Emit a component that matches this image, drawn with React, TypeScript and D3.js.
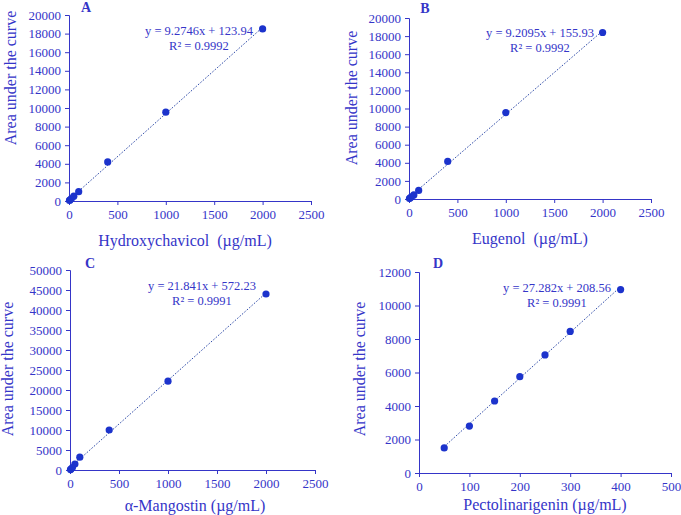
import { useEffect, useRef } from "react";
import * as d3 from "d3";

// panel A - hydroxychavicol
const concA = [5, 10, 25, 50, 100, 400, 1000, 2000];
const aucA = [60, 110, 260, 520, 1000, 4200, 9550, 18500];
// panel B - eugenol
const concB = [5, 10, 25, 50, 100, 400, 1000, 2000];
const aucB = [50, 100, 230, 450, 950, 4150, 9550, 18400];
// panel C - alpha-mangostin
const concC = [5, 10, 25, 50, 100, 400, 1000, 2000];
const aucC = [100, 220, 600, 1500, 3200, 10000, 22200, 44000];
// panel D - pectolinarigenin
const concD = [50, 100, 150, 200, 250, 300, 400];
const aucD = [1500, 2800, 4300, 5750, 7050, 8450, 10950];

const eqA = ["y = 9.2746x + 123.94", "R² = 0.9992"];
const eqB = ["y = 9.2095x + 155.93", "R² = 0.9992"];
const eqC = ["y = 21.841x + 572.23", "R² = 0.9991"];
const eqD = ["y = 27.282x + 208.56", "R² = 0.9991"];
const fitA = [9.2746, 123.94];
const fitB = [9.2095, 155.93];
const fitC = [21.841, 572.23];
const fitD = [27.282, 208.56];

const xTicksA = [0, 500, 1000, 1500, 2000, 2500];
const xTicksD = [0, 100, 200, 300, 400, 500];
const yTicksAB = [0, 2000, 4000, 6000, 8000, 10000, 12000, 14000, 16000, 18000, 20000];
const yTicksC = [0, 5000, 10000, 15000, 20000, 25000, 30000, 35000, 40000, 45000, 50000];
const yTicksD = [0, 2000, 4000, 6000, 8000, 10000, 12000];

const TEXT = "#3535c8";
const DOT = "#1c33cc";
const LINE = "#2e4aa8";
const FONT = "'Liberation Serif', 'Times New Roman', serif";

export default function App() {
    const svgRef = useRef<SVGSVGElement>(null);

    useEffect(() => {
        const svg = d3.select(svgRef.current);
        svg.selectAll("*").remove();

        const panels = [
            {
                letter: "A", x: concA, y: aucA, fit: fitA, eq: eqA, xt: xTicksA, yt: yTicksAB,
                xMax: 2500, yMax: 20000, left: 69, right: 311, top: 15, bottom: 201,
                title: "Hydroxychavicol  (µg/mL)", titleX: 185, titleY: 246,
                yTitleX: 16, yTitleY: 78, letterX: 86, letterY: 12, eqX: 199, eqY: 35,
            },
            {
                letter: "B", x: concB, y: aucB, fit: fitB, eq: eqB, xt: xTicksA, yt: yTicksAB,
                xMax: 2500, yMax: 20000, left: 409, right: 651, top: 18, bottom: 199,
                title: "Eugenol  (µg/mL)", titleX: 530, titleY: 244,
                yTitleX: 357, yTitleY: 98, letterX: 425, letterY: 13, eqX: 540, eqY: 37,
            },
            {
                letter: "C", x: concC, y: aucC, fit: fitC, eq: eqC, xt: xTicksA, yt: yTicksC,
                xMax: 2500, yMax: 50000, left: 70, right: 315, top: 270, bottom: 470,
                title: "α-Mangostin (µg/mL)", titleX: 195, titleY: 511,
                yTitleX: 13, yTitleY: 369, letterX: 90, letterY: 268, eqX: 202, eqY: 290,
            },
            {
                letter: "D", x: concD, y: aucD, fit: fitD, eq: eqD, xt: xTicksD, yt: yTicksD,
                xMax: 500, yMax: 12000, left: 419, right: 671, top: 272, bottom: 473,
                title: "Pectolinarigenin (µg/mL)", titleX: 545, titleY: 510,
                yTitleX: 365, yTitleY: 369, letterX: 438, letterY: 268, eqX: 557, eqY: 292,
            },
        ];

        panels.forEach((p) => {
            const x = d3.scaleLinear().domain([0, p.xMax]).range([p.left, p.right]);
            const y = d3.scaleLinear().domain([0, p.yMax]).range([p.bottom, p.top]);
            const g = svg.append("g").style("font-family", FONT);

            // y axis
            const yAxis = g
                .append("g")
                .attr("transform", `translate(${p.left},0)`)
                .call(d3.axisLeft(y).tickValues(p.yt).tickSize(4).tickPadding(4).tickFormat(d3.format("d")));
            yAxis.select(".domain").attr("stroke", TEXT);
            yAxis.selectAll(".tick line").attr("stroke", TEXT);
            yAxis.selectAll("text").attr("fill", TEXT).style("font-size", "13px").style("font-family", FONT);

            // x axis
            const xAxis = g
                .append("g")
                .attr("transform", `translate(0,${p.bottom})`)
                .call(d3.axisBottom(x).tickValues(p.xt).tickSize(4).tickSizeOuter(4).tickPadding(5).tickFormat(d3.format("d")));
            xAxis.select(".domain").attr("stroke", TEXT);
            xAxis.selectAll(".tick line").attr("stroke", TEXT);
            xAxis.selectAll("text").attr("fill", TEXT).style("font-size", "13px").style("font-family", FONT);

            // trend line from the fitted equation
            const x0 = d3.min(p.x) as number;
            const x1 = d3.max(p.x) as number;
            const lx0 = p.letter === "D" ? x0 : 0;
            g.append("line")
                .attr("x1", x(lx0))
                .attr("y1", y(Math.max(0, p.fit[0] * lx0 + p.fit[1])))
                .attr("x2", x(x1))
                .attr("y2", y(p.fit[0] * x1 + p.fit[1]))
                .attr("stroke", LINE)
                .attr("stroke-width", 1)
                .attr("stroke-dasharray", "1.6,1.6");

            g.selectAll("circle")
                .data(p.x.map((v, i) => ({ c: v, a: p.y[i] })))
                .enter()
                .append("circle")
                .attr("cx", (d) => x(d.c))
                .attr("cy", (d) => y(d.a))
                .attr("r", 3.6)
                .attr("fill", DOT);

            // equation
            g.append("text")
                .attr("x", p.eqX)
                .attr("y", p.eqY)
                .attr("text-anchor", "middle")
                .attr("fill", TEXT)
                .style("font-size", "12.5px")
                .text(p.eq[0]);
            g.append("text")
                .attr("x", p.eqX)
                .attr("y", p.eqY + 14.5)
                .attr("text-anchor", "middle")
                .attr("fill", TEXT)
                .style("font-size", "12.5px")
                .text(p.eq[1]);

            g.append("text")
                .attr("x", p.letterX)
                .attr("y", p.letterY)
                .attr("text-anchor", "middle")
                .attr("fill", TEXT)
                .style("font-size", "14px")
                .style("font-weight", "bold")
                .text(p.letter);

            g.append("text")
                .attr("x", p.titleX)
                .attr("y", p.titleY)
                .attr("text-anchor", "middle")
                .attr("fill", TEXT)
                .style("font-size", "16px")
                .style("white-space", "pre")
                .text(p.title);

            g.append("text")
                .attr("transform", `translate(${p.yTitleX},${p.yTitleY}) rotate(-90)`)
                .attr("text-anchor", "middle")
                .attr("fill", TEXT)
                .style("font-size", "16px")
                .text("Area under the curve");
        });
    }, []);

    return (
        <svg
            ref={svgRef}
            width={681}
            height={515}
            style={{ position: "absolute", left: 0, top: 0, background: "#fff" }}
        />
    );
}
